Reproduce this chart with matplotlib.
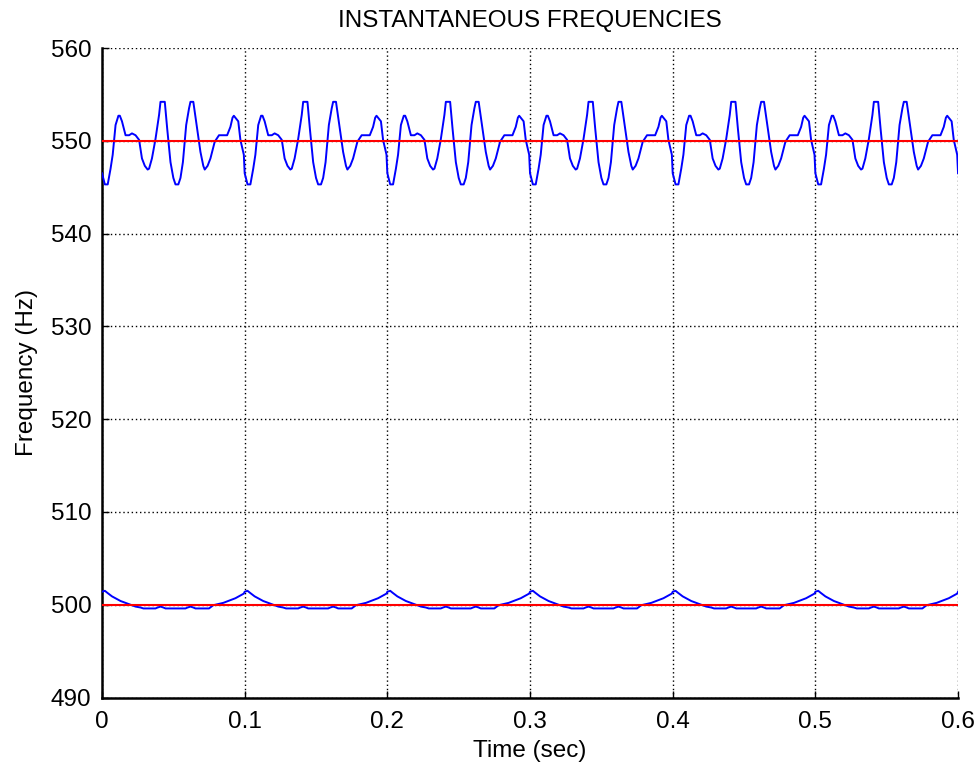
import matplotlib
matplotlib.use("Agg")
import matplotlib.pyplot as plt
import numpy as np

plt.rcParams["font.family"] = ["Liberation Sans", "DejaVu Sans"]

# one 0.1 s period of each instantaneous-frequency trace
period = 0.1
n_periods = 6

upper_t = [0.000, 0.002, 0.004, 0.006, 0.0075, 0.0095, 0.0115, 0.0125, 0.014,
           0.0165, 0.019, 0.021, 0.0235, 0.026, 0.028, 0.030, 0.032, 0.033,
           0.035, 0.0375, 0.040, 0.041, 0.044, 0.0457, 0.048, 0.050, 0.0515,
           0.0535, 0.055, 0.0567, 0.059, 0.061, 0.062, 0.064, 0.0667, 0.069,
           0.071, 0.072, 0.074, 0.076, 0.079, 0.082, 0.0877, 0.090, 0.0915,
           0.0924, 0.0955, 0.097, 0.0994]
upper_f = [546.5, 545.3, 545.3, 547.0, 548.5, 551.7, 552.7, 552.7, 552.1,
           550.6, 550.6, 550.8, 550.6, 550.1, 548.1, 547.3, 546.9, 547.0,
           548.1, 550.2, 552.8, 554.2, 554.2, 551.3, 547.7, 546.0, 545.3,
           545.3, 546.0, 547.7, 551.7, 553.5, 554.2, 554.2, 551.3, 548.8,
           547.3, 546.9, 547.3, 548.1, 549.9, 550.6, 550.6, 551.5, 552.5,
           552.7, 552.1, 550.1, 548.5]

lower_t = [0.000, 0.002, 0.0036, 0.007, 0.013, 0.019, 0.0235, 0.027, 0.029,
           0.0375, 0.039, 0.041, 0.043, 0.0445, 0.0585, 0.060, 0.062, 0.064,
           0.0655, 0.075, 0.078, 0.085, 0.0935, 0.0994]
lower_f = [501.4, 501.5, 501.3, 500.9, 500.4, 500.05, 499.8, 499.7, 499.6,
           499.6, 499.7, 499.8, 499.7, 499.6, 499.6, 499.7, 499.8, 499.7,
           499.6, 499.6, 499.95, 500.2, 500.7, 501.2]

nominal_freqs = [500, 550]
t_end = 0.6

x_ticks = [0, 0.1, 0.2, 0.3, 0.4, 0.5, 0.6]
x_ticklabels = ["0", "0.1", "0.2", "0.3", "0.4", "0.5", "0.6"]
y_ticks = [490, 500, 510, 520, 530, 540, 550, 560]


def repeat_period(t, f):
    t = np.asarray(t)
    f = np.asarray(f)
    tt = np.concatenate([t + k * period for k in range(n_periods)] + [[t_end]])
    ff = np.concatenate([f] * n_periods + [[f[0]]])
    return tt, ff


fig = plt.figure(figsize=(9.78, 7.67), dpi=100)
ax = fig.add_axes([0.1043, 0.0906, 0.8753, 0.8468])

for t, f in [(upper_t, upper_f), (lower_t, lower_f)]:
    tt, ff = repeat_period(t, f)
    ax.plot(tt, ff, color="#0000ff", lw=1.4, zorder=3)

for f0 in nominal_freqs:
    ax.plot([0, t_end], [f0, f0], color="#ff0000", lw=1.5, zorder=4)

ax.set_xlim(0, 0.6)
ax.set_ylim(490, 560)
ax.set_xticks(x_ticks)
ax.set_xticklabels(x_ticklabels)
ax.set_yticks(y_ticks)

ax.grid(True, color="black", linestyle=(0, (1, 2)), lw=1.0)
ax.set_axisbelow(True)
for side in ["top", "right"]:
    ax.spines[side].set_visible(False)
for side in ["left", "bottom"]:
    ax.spines[side].set_linewidth(1.8)
ax.tick_params(direction="in", length=5, width=1, labelsize=17.5)
ax.tick_params(axis="x", pad=10)
ax.tick_params(axis="y", pad=7.5)

ax.set_xlabel("Time (sec)", fontsize=17.5, labelpad=5)
ax.set_ylabel("Frequency (Hz)", fontsize=17.5, labelpad=9)
ax.set_title("INSTANTANEOUS FREQUENCIES", fontsize=17.5, pad=15)

fig.savefig("out.png", dpi=100)
